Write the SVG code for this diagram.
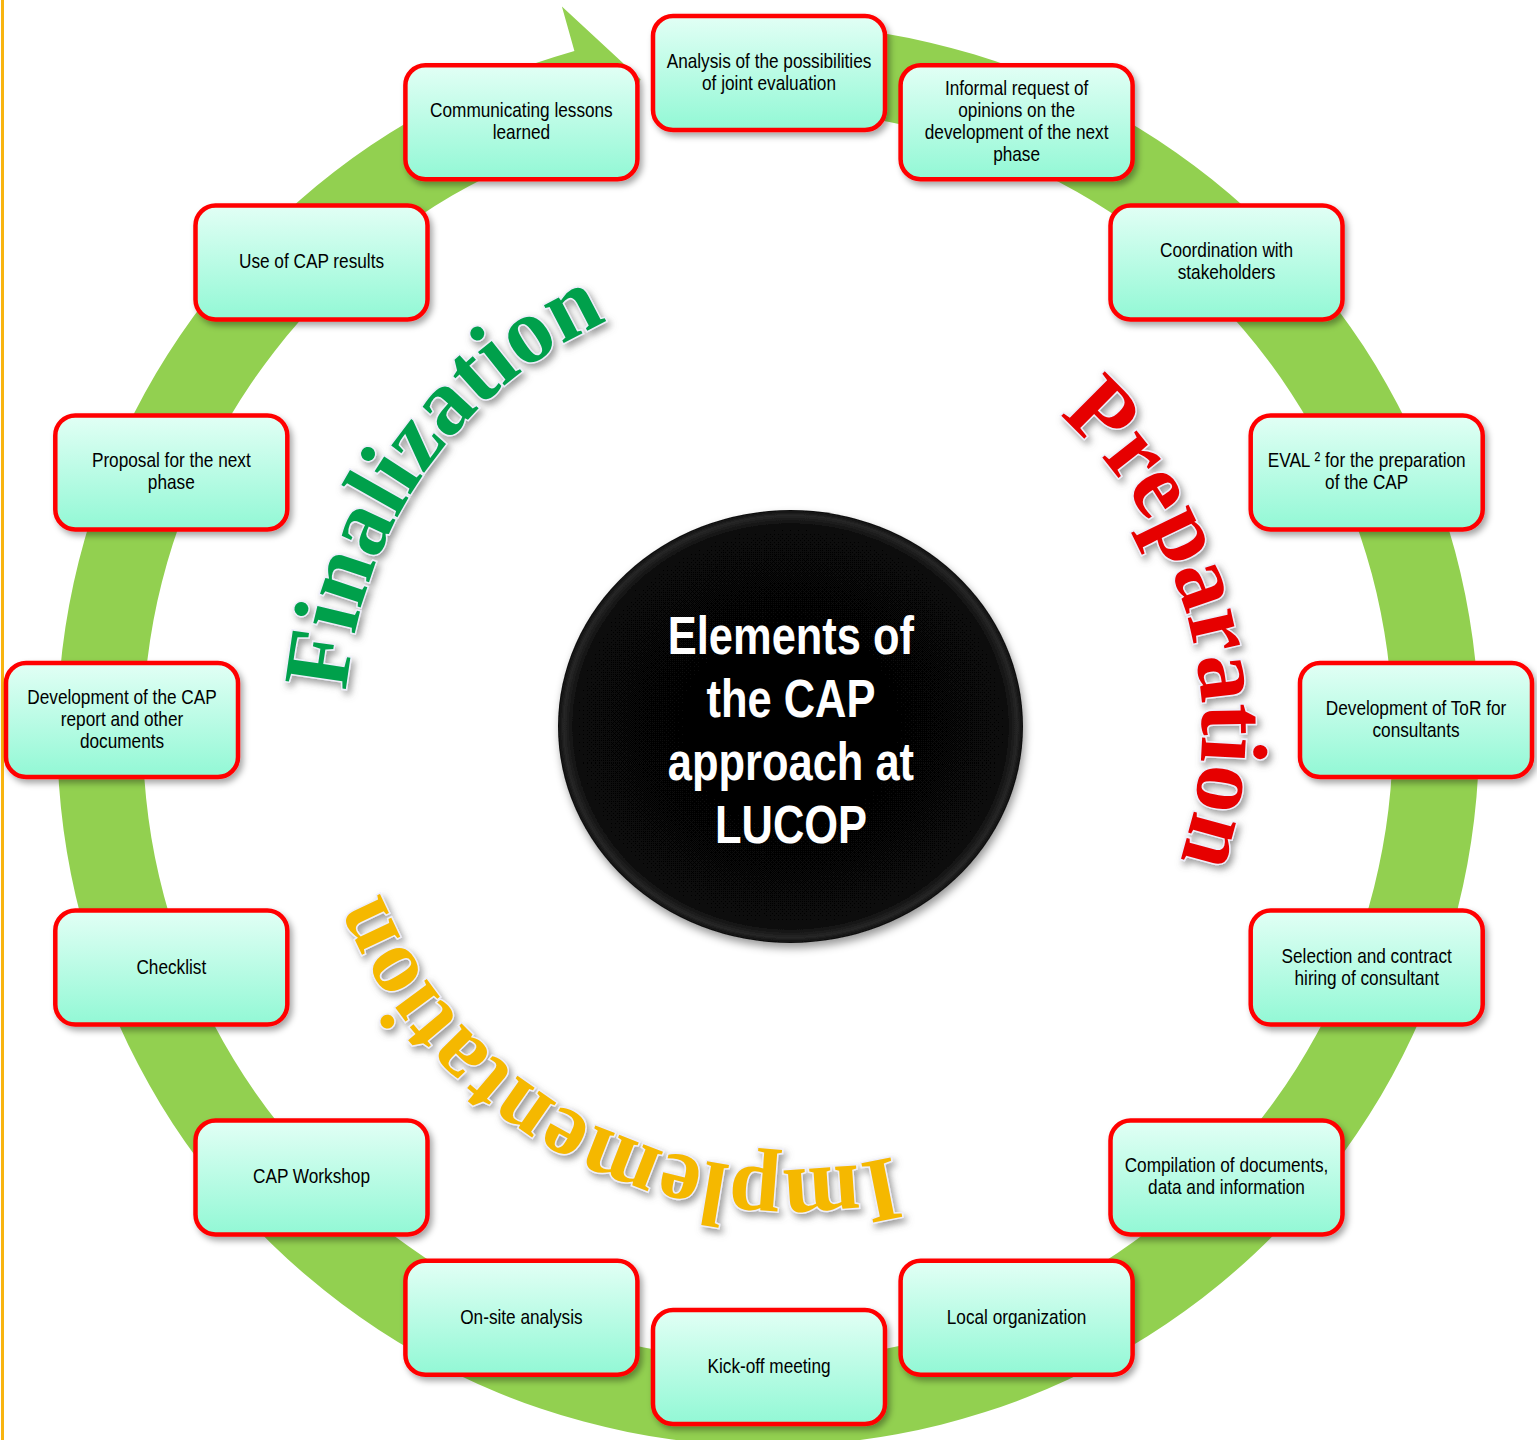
<svg xmlns="http://www.w3.org/2000/svg" width="1537" height="1440" viewBox="0 0 1537 1440">
<defs>
<style>
.box rect{fill:url(#bg);stroke:#ff0000;stroke-width:4.5;filter:url(#bshadow)}
.box text{font-family:"Liberation Sans",Arial,sans-serif;font-size:21px;fill:#000;text-anchor:middle}
.title{font-family:"Liberation Sans",Arial,sans-serif;font-size:53px;font-weight:bold;fill:#fff;text-anchor:middle}
.arc{font-family:"Liberation Serif","Times New Roman",serif;font-weight:bold;stroke:#eeeefa;stroke-width:3;paint-order:stroke;filter:url(#wshadow)}
</style>
<linearGradient id="bg" x1="0" y1="0" x2="0" y2="1">
<stop offset="0" stop-color="#e2fff5"/>
<stop offset="1" stop-color="#92f8d5"/>
</linearGradient>
<radialGradient id="cg" cx="0.5" cy="0.5" r="0.5">
<stop offset="0" stop-color="#050505"/>
<stop offset="0.92" stop-color="#070707"/>
<stop offset="0.975" stop-color="#262626"/>
<stop offset="1" stop-color="#0c0c0c"/>
</radialGradient>
<filter id="bshadow" x="-10%" y="-10%" width="125%" height="130%">
<feDropShadow dx="3" dy="4" stdDeviation="3" flood-color="#000" flood-opacity="0.35"/>
</filter>
<filter id="cshadow" x="-10%" y="-10%" width="120%" height="125%">
<feDropShadow dx="2" dy="5" stdDeviation="4" flood-color="#000" flood-opacity="0.4"/>
</filter>
<filter id="wshadow" x="-20%" y="-20%" width="140%" height="140%">
<feGaussianBlur in="SourceAlpha" stdDeviation="3.5"/>
<feOffset dx="3" dy="4" result="b"/>
<feFlood flood-color="#666" flood-opacity="0.65"/>
<feComposite in2="b" operator="in"/>
<feMerge><feMergeNode/><feMergeNode in="SourceGraphic"/></feMerge>
</filter>
<path id="pFin" d="M 345.0 733.2 A 445 445 0 0 1 646.6 305.7"/>
<path id="pPrep" d="M 1036.8 397.1 A 412 412 0 0 1 1169.8 886.7"/>
<path id="pImp" d="M 917.4 1150.2 A 442 442 0 0 1 371.5 869.1"/>
</defs>
<rect x="0" y="0" width="1537" height="1440" fill="#ffffff"/>
<rect x="1" y="0" width="3" height="1440" fill="#f8b410"/>

<g id="connectors">
<path id="cycle-arrow" d="M 706.03 26.70 A 711 711 0 1 1 574.4 50.9 L 561.9 6.6 L 640.5 79.3 L 610.35 177.9 L 597.8 133.6 A 625 625 0 1 0 713.52 112.38 Z" fill="#92d050"/>
</g>

<g id="center">
<ellipse cx="790.5" cy="726.5" rx="232.5" ry="216.5" fill="url(#cg)" filter="url(#cshadow)"/>
<text class="title" transform="translate(791 0) scale(0.82 1)">
<tspan x="7.3" y="654">Elements of</tspan>
<tspan x="7.3" y="717">the CAP</tspan>
<tspan x="7.3" y="780">approach at</tspan>
<tspan x="0" y="843">LUCOP</tspan>
</text>
</g>

<g id="phase-finalization">
<text class="arc" font-size="93" fill="#00a04c"><textPath href="#pFin" startOffset="50%" text-anchor="middle">Finalization</textPath></text>
</g>
<g id="phase-preparation">
<text class="arc" font-size="95" fill="#e60000"><textPath href="#pPrep" startOffset="50%" text-anchor="middle">Preparation</textPath></text>
</g>
<g id="phase-implementation">
<text class="arc" font-size="92" fill="#f5b800"><textPath href="#pImp" startOffset="50%" text-anchor="middle">Implementation</textPath></text>
</g>

<g id="n0" class="box"><rect x="653" y="16" width="232" height="114" rx="20"/>
<text transform="translate(769 0) scale(0.82 1)"><tspan x="0" y="68">Analysis of the possibilities</tspan><tspan x="0" y="90">of joint evaluation</tspan></text></g>

<g id="n1" class="box"><rect x="900.6" y="65.3" width="232" height="114" rx="20"/>
<text transform="translate(1016.6 0) scale(0.82 1)"><tspan x="0" y="95.3">Informal request of</tspan><tspan x="0" y="117.3">opinions on the</tspan><tspan x="0" y="139.3">development of the next</tspan><tspan x="0" y="161.3">phase</tspan></text></g>

<g id="n2" class="box"><rect x="1110.5" y="205.5" width="232" height="114" rx="20"/>
<text transform="translate(1226.5 0) scale(0.82 1)"><tspan x="0" y="257.5">Coordination with</tspan><tspan x="0" y="279.5">stakeholders</tspan></text></g>

<g id="n3" class="box"><rect x="1250.7" y="415.4" width="232" height="114" rx="20"/>
<text transform="translate(1366.7 0) scale(0.82 1)"><tspan x="0" y="467.4">EVAL ² for the preparation</tspan><tspan x="0" y="489.4">of the CAP</tspan></text></g>

<g id="n4" class="box"><rect x="1300" y="663" width="232" height="114" rx="20"/>
<text transform="translate(1416 0) scale(0.82 1)"><tspan x="0" y="715">Development of ToR for</tspan><tspan x="0" y="737">consultants</tspan></text></g>

<g id="n5" class="box"><rect x="1250.7" y="910.6" width="232" height="114" rx="20"/>
<text transform="translate(1366.7 0) scale(0.82 1)"><tspan x="0" y="962.6">Selection and contract</tspan><tspan x="0" y="984.6">hiring of consultant</tspan></text></g>

<g id="n6" class="box"><rect x="1110.5" y="1120.5" width="232" height="114" rx="20"/>
<text transform="translate(1226.5 0) scale(0.82 1)"><tspan x="0" y="1172.5">Compilation of documents,</tspan><tspan x="0" y="1194.5">data and information</tspan></text></g>

<g id="n7" class="box"><rect x="900.6" y="1260.7" width="232" height="114" rx="20"/>
<text transform="translate(1016.6 0) scale(0.82 1)"><tspan x="0" y="1323.7">Local organization</tspan></text></g>

<g id="n8" class="box"><rect x="653" y="1310" width="232" height="114" rx="20"/>
<text transform="translate(769 0) scale(0.82 1)"><tspan x="0" y="1373">Kick-off meeting</tspan></text></g>

<g id="n9" class="box"><rect x="405.4" y="1260.7" width="232" height="114" rx="20"/>
<text transform="translate(521.4 0) scale(0.82 1)"><tspan x="0" y="1323.7">On-site analysis</tspan></text></g>

<g id="n10" class="box"><rect x="195.5" y="1120.5" width="232" height="114" rx="20"/>
<text transform="translate(311.5 0) scale(0.82 1)"><tspan x="0" y="1183.5">CAP Workshop</tspan></text></g>

<g id="n11" class="box"><rect x="55.3" y="910.6" width="232" height="114" rx="20"/>
<text transform="translate(171.3 0) scale(0.82 1)"><tspan x="0" y="973.6">Checklist</tspan></text></g>

<g id="n12" class="box"><rect x="6" y="663" width="232" height="114" rx="20"/>
<text transform="translate(122 0) scale(0.82 1)"><tspan x="0" y="704">Development of the CAP</tspan><tspan x="0" y="726">report and other</tspan><tspan x="0" y="748">documents</tspan></text></g>

<g id="n13" class="box"><rect x="55.3" y="415.4" width="232" height="114" rx="20"/>
<text transform="translate(171.3 0) scale(0.82 1)"><tspan x="0" y="467.4">Proposal for the next</tspan><tspan x="0" y="489.4">phase</tspan></text></g>

<g id="n14" class="box"><rect x="195.5" y="205.5" width="232" height="114" rx="20"/>
<text transform="translate(311.5 0) scale(0.82 1)"><tspan x="0" y="268.5">Use of CAP results</tspan></text></g>

<g id="n15" class="box"><rect x="405.4" y="65.3" width="232" height="114" rx="20"/>
<text transform="translate(521.4 0) scale(0.82 1)"><tspan x="0" y="117.3">Communicating lessons</tspan><tspan x="0" y="139.3">learned</tspan></text></g>
</svg>
